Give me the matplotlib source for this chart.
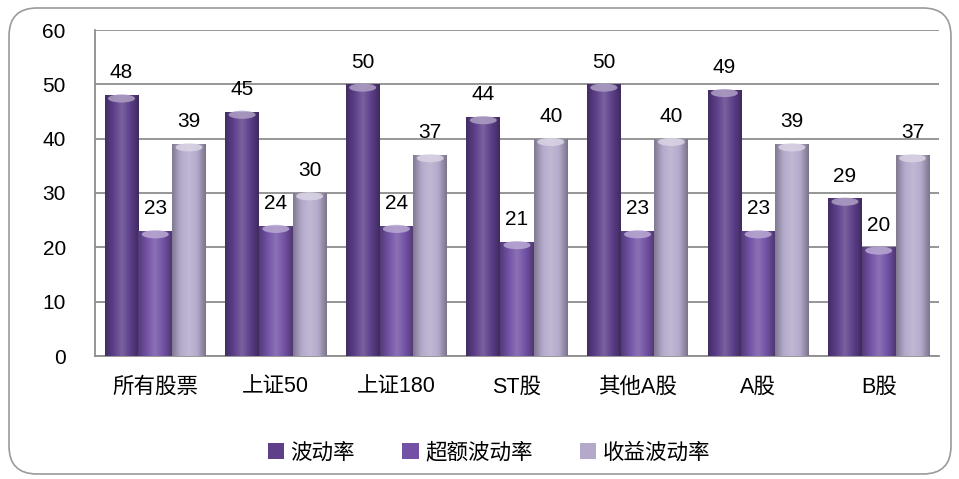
import numpy as np
import matplotlib as mpl
import matplotlib.pyplot as plt
from matplotlib.colors import LinearSegmentedColormap, to_rgb
from matplotlib.patches import FancyBboxPatch, Ellipse
mpl.use('agg')

plt.rcParams['font.family'] = ['Liberation Sans', 'Noto Sans CJK SC', 'DejaVu Sans']

##--##--  data  --##--##
categories = ['所有股票', '上证50', '上证180', 'ST股', '其他A股', 'A股', 'B股']
series_names = ['波动率', '超额波动率', '收益波动率']
vol = [48, 45, 50, 44, 50, 49, 29]
excess_vol = [23, 24, 24, 21, 23, 23, 20]
ret_vol = [39, 30, 37, 40, 40, 39, 37]
yticks = [0, 10, 20, 30, 40, 50, 60]

colors = ['#5d3f8a', '#7352a6', '#b4a9cb']

##--##--  figure  --##--##
fig = plt.figure(figsize=(9.59, 4.79), dpi=100)
ax = fig.add_axes([95/959, 123/479, 844/959, 326/479])

# rounded outer frame
frame = FancyBboxPatch((0.09, 0.05), 9.42, 4.66,
                       boxstyle='round,pad=0,rounding_size=0.28',
                       transform=fig.dpi_scale_trans, facecolor='none',
                       edgecolor='#9a9a9a', linewidth=1.2, zorder=0)
fig.patches.append(frame)


def shade_cmap(c):
  r = np.array(to_rgb(c))
  dark = r * 0.72
  light = np.clip(r + (1 - r) * 0.18, 0, 1)
  return LinearSegmentedColormap.from_list('s', [dark, r, light, r, dark * 0.95])


x = np.arange(len(categories))
w = 0.28
offsets = [-0.28, 0.0, 0.28]
gradient = np.linspace(0, 1, 64).reshape(1, -1)

for vals, off, c in zip([vol, excess_vol, ret_vol], offsets, colors):
  bars = ax.bar(x + off, vals, width=w, color=c, edgecolor='none', zorder=2)
  cmap = shade_cmap(c)
  for b, v in zip(bars, vals):
    x0 = b.get_x()
    im = ax.imshow(gradient, extent=[x0, x0 + w, 0, v], aspect='auto',
                   cmap=cmap, zorder=3, interpolation='bicubic')
    im.set_clip_path(b)
    r = np.array(to_rgb(c))
    cap = Ellipse((x0 + w / 2, v - 0.6), w * 0.8, 1.5,
                  facecolor=np.clip(r + (1 - r) * 0.5, 0, 1), edgecolor='none',
                  alpha=0.85, zorder=4)
    ax.add_patch(cap)
    ax.annotate(str(v), (x0 + w / 2, v), xytext=(0, 16), textcoords='offset points',
                ha='center', va='center', fontsize=15, color='black', zorder=5)

ax.set_xlim(-0.5, len(categories) - 0.5)
ax.set_ylim(0, 60)
ax.set_yticks(yticks)
ax.set_yticklabels([str(t) for t in yticks], fontsize=15)
ax.set_xticks(x)
ax.set_xticklabels(categories, fontsize=15.5)
ax.tick_params(axis='both', length=0)
ax.tick_params(axis='y', pad=21)
ax.tick_params(axis='x', pad=15)
ax.yaxis.grid(True, color='#8e8e8e', linewidth=1.3, zorder=1)
ax.set_axisbelow(True)
for s in ['top', 'right']:
  ax.spines[s].set_visible(False)
ax.spines['left'].set_color('#8e8e8e')
ax.spines['bottom'].set_color('#8e8e8e')
ax.spines['left'].set_linewidth(1.3)
ax.spines['bottom'].set_linewidth(1.3)

handles = [mpl.patches.Patch(facecolor=c, edgecolor='none') for c in colors]
fig.legend(handles, series_names, loc='center', bbox_to_anchor=(489/959, 1 - 453/479),
           ncol=3, frameon=False, fontsize=15.5, handlelength=0.75, handleheight=0.75,
           handletextpad=0.3, columnspacing=2.2)

fig.savefig('out.png', dpi=100)
